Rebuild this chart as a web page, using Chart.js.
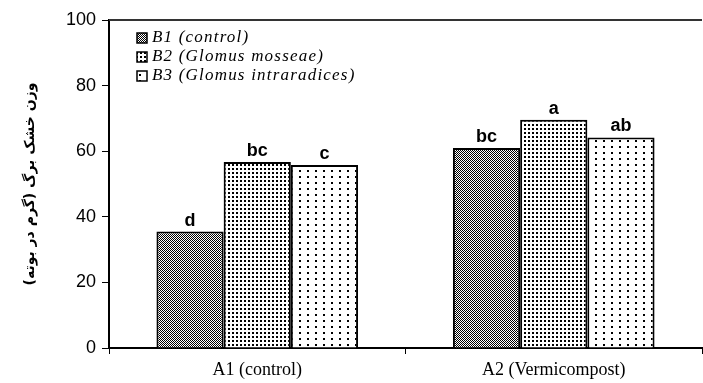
<!DOCTYPE html>
<html>
<head>
<meta charset="utf-8">
<script src="https://cdn.jsdelivr.net/npm/chart.js@4/dist/chart.umd.min.js"></script>
<style>
  html, body { margin: 0; padding: 0; background: #fff; }
  #wrap { width: 703px; height: 383px; }
</style>
</head>
<body>
<div id="wrap"><canvas id="c" width="703" height="383"></canvas></div>
<script>
// data
const categories = ['A1 (control)', 'A2 (Vermicompost)']
const seriesNames = ['B1 (control)', 'B2 (Glomus mosseae)', 'B3 (Glomus intraradices)']
const b1 = [35.5, 61]
const b2 = [56.7, 69.6]
const b3 = [55.8, 64.2]
const letters = [['d', 'bc'], ['bc', 'a'], ['c', 'ab']]
const yTicks = [0, 20, 40, 60, 80, 100]
const yTitle = 'وزن خشک برگ (گرم در بوته)'

// fill patterns for the three treatments
function makePattern(w, h, draw) {
  let cv = document.createElement('canvas')
  cv.width = w
  cv.height = h
  let g = cv.getContext('2d')
  g.fillStyle = '#fff'
  g.fillRect(0, 0, w, h)
  g.fillStyle = '#000'
  draw(g)
  return document.getElementById('c').getContext('2d').createPattern(cv, 'repeat')
}
const pat1 = makePattern(2, 2, g => { g.fillRect(0, 0, 1, 1); g.fillRect(1, 1, 1, 1) })
const pat2 = makePattern(4, 4, g => { g.fillRect(0, 0, 2, 2) })
const pat3 = makePattern(8, 6, g => { g.fillRect(3, 2, 2, 2) })
const patterns = [pat1, pat2, pat3]

const decorations = {
  id: 'decorations',
  afterDatasetsDraw(chart) {
    const ctx = chart.ctx
    const area = chart.chartArea
    ctx.save()
    // top frame line
    ctx.strokeStyle = '#333'
    ctx.lineWidth = 2
    ctx.beginPath()
    ctx.moveTo(area.left, area.top)
    ctx.lineTo(area.right, area.top)
    ctx.stroke()

    // letters above bars
    ctx.fillStyle = '#000'
    ctx.font = 'bold 18px "Liberation Sans", Arial, sans-serif'
    ctx.textAlign = 'center'
    ctx.textBaseline = 'bottom'
    chart.data.datasets.forEach((ds, i) => {
      chart.getDatasetMeta(i).data.forEach((bar, j) => {
        ctx.fillText(letters[i][j], bar.x, bar.y - 2)
      })
    })

    // legend inside the plot
    ctx.font = 'italic 17px "Liberation Serif", "Times New Roman", serif'
    ctx.letterSpacing = '1.2px'
    ctx.textAlign = 'left'
    ctx.textBaseline = 'middle'
    seriesNames.forEach((name, i) => {
      let y = 38 + i * 19
      ctx.fillStyle = patterns[i]
      ctx.fillRect(137, y - 5, 10, 10)
      ctx.strokeStyle = '#000'
      ctx.lineWidth = 1.5
      ctx.strokeRect(137, y - 5, 10, 10)
      ctx.fillStyle = '#000'
      ctx.fillText(name, 152, y)
    })
    ctx.restore()
  }
}

new Chart(document.getElementById('c'), {
  type: 'bar',
  data: {
    labels: categories,
    datasets: [b1, b2, b3].map((vals, i) => ({
      label: seriesNames[i],
      data: vals,
      backgroundColor: patterns[i],
      borderColor: '#000',
      borderWidth: 2,
      borderSkipped: 'bottom',
      categoryPercentage: 0.68,
      barPercentage: 1
    }))
  },
  options: {
    responsive: false,
    animation: false,
    layout: { padding: { top: 20, right: 1, bottom: 0, left: 22 } },
    plugins: {
      legend: { display: false },
      tooltip: { enabled: false }
    },
    scales: {
      x: {
        afterFit: s => { s.height = 35 },
        grid: { offset: true, drawOnChartArea: false, color: '#000', tickLength: 6, lineWidth: 1 },
        border: { color: '#000', width: 2 },
        ticks: {
          color: '#000',
          padding: 5,
          font: { family: '"Liberation Serif", "Times New Roman", serif', size: 18 }
        }
      },
      y: {
        min: 0,
        max: 100,
        afterFit: s => { s.width = 87 },
        afterBuildTicks: s => { s.ticks = yTicks.map(v => ({ value: v })) },
        grid: { drawOnChartArea: false, color: '#000', tickLength: 7 },
        border: { color: '#000', width: 2 },
        ticks: {
          color: '#000',
          padding: 6,
          font: { family: '"Liberation Sans", Arial, sans-serif', size: 18 }
        },
        title: {
          display: true,
          text: yTitle,
          color: '#000',
          padding: { top: 0, bottom: 10 },
          font: { family: '"DejaVu Sans", sans-serif', size: 14, weight: 'bold' }
        }
      }
    }
  },
  plugins: [decorations]
})
</script>
</body>
</html>
